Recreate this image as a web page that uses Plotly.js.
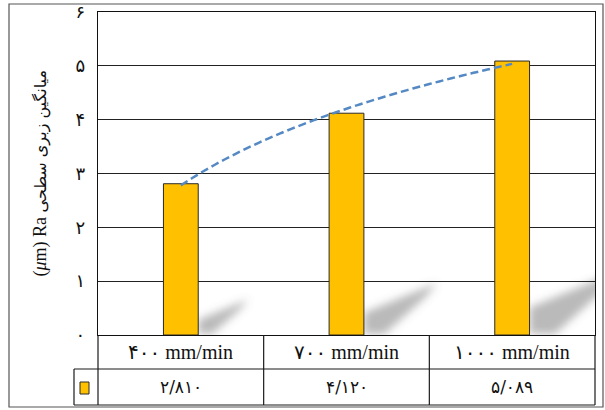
<!DOCTYPE html>
<html>
<head>
<meta charset="utf-8">
<script src="https://cdn.plot.ly/plotly-3.0.1.min.js"></script>
<style>
  html, body { margin: 0; padding: 0; background: #fff; }
  #chart { width: 605px; height: 410px; }
</style>
</head>
<body>
<div id="chart"></div>
<script>
// Feed rates (mm/min) and mean surface roughness Ra (µm)
const feedRates = [400, 700, 1000];
const roughness = [2.810, 4.120, 5.089];
const yTickValues = [0, 1, 2, 3, 4, 5, 6];

const FA_DIGITS = ['۰', '۱', '۲', '۳', '۴', '۵', '۶', '۷', '۸', '۹'];
function toFa(s) {
  return String(s).replace(/[0-9]/g, d => FA_DIGITS[+d]);
}

const barColor = '#FFC000';
const xIdx = feedRates.map((_, i) => i);
const barWidth = 0.21;

// Logarithmic trendline (least squares on y = a + b·ln(n), n = 1..N)
const lnX = xIdx.map(i => Math.log(i + 1));
const mx = lnX.reduce((s, v) => s + v, 0) / lnX.length;
const my = roughness.reduce((s, v) => s + v, 0) / roughness.length;
let sxy = 0, sxx = 0;
lnX.forEach((lx, i) => { sxy += (lx - mx) * (roughness[i] - my); sxx += (lx - mx) * (lx - mx); });
const slope = sxy / sxx;
const intercept = my - slope * mx;
const trendX = [], trendY = [];
for (let k = 0; k <= 60; k++) {
  const xv = (xIdx.length - 1) * k / 60;
  trendX.push(xv);
  trendY.push(intercept + slope * Math.log(xv + 1));
}

const bars = {
  type: 'bar',
  x: xIdx,
  y: roughness,
  width: barWidth,
  marker: { color: barColor, line: { color: '#2a2a2a', width: 1 } },
  hoverinfo: 'skip',
  showlegend: false
};

const trend = {
  type: 'scatter',
  mode: 'lines',
  x: trendX,
  y: trendY,
  line: { color: '#5589c4', width: 2.5, dash: '8px,4px', shape: 'spline' },
  hoverinfo: 'skip',
  showlegend: false
};

// Soft cast shadows to the right of each bar foot
const shapes = roughness.map((v, i) => {
  const xr = i + barWidth / 2;
  return {
    type: 'path', xref: 'x', yref: 'y', layer: 'below',
    path: `M ${xr} 0.02 L ${xr} ${0.1 * v} L ${xr + 0.107 * v} ${0.235 * v} L ${xr + 0.09 * v} ${0.17 * v} L ${xr + 0.03 * v} 0.02 Z`,
    fillcolor: 'rgba(100,100,100,0.45)',
    line: { width: 0 }
  };
});

// Data table under the plot area
const plotH = 323, plotW = 497;
const py = px => -px / plotH;          // pixels below the plot bottom -> paper y
const pxX = px => px / plotW;          // pixels from the plot left -> paper x
const row1 = py(34), row2 = py(70);
const tableLine = { color: '#1a1a1a', width: 1.2 };
for (let c = 0; c <= feedRates.length; c++) {
  const xp = c / feedRates.length;
  shapes.push({ type: 'line', xref: 'paper', yref: 'paper', x0: xp, x1: xp, y0: 0, y1: row2, line: tableLine });
}
shapes.push({ type: 'line', xref: 'paper', yref: 'paper', x0: pxX(-24), x1: 1, y0: row1, y1: row1, line: tableLine });
shapes.push({ type: 'line', xref: 'paper', yref: 'paper', x0: pxX(-24), x1: 1, y0: row2, y1: row2, line: tableLine });
shapes.push({ type: 'line', xref: 'paper', yref: 'paper', x0: pxX(-24), x1: pxX(-24), y0: row1, y1: row2, line: tableLine });
// legend key
shapes.push({ type: 'rect', xref: 'paper', yref: 'paper', x0: pxX(-18), x1: pxX(-9), y0: py(47), y1: py(59),
  fillcolor: barColor, line: { color: '#2a2a2a', width: 1 } });
// outer frame
shapes.push({ type: 'rect', xref: 'paper', yref: 'paper', x0: pxX(-89), x1: pxX(505), y0: 1 + 8 / plotH, y1: py(72),
  fillcolor: 'rgba(0,0,0,0)', line: { color: '#555', width: 1.2 } });

const serif = 'Liberation Serif, DejaVu Serif, DejaVu Sans, serif';
const annotations = [];
feedRates.forEach((f, i) => {
  const xc = (i + 0.5) / feedRates.length;
  annotations.push({ xref: 'paper', yref: 'paper', x: xc, y: py(17), text: toFa(f) + ' mm/min',
    showarrow: false, font: { family: serif, size: 20, color: '#111' }, xanchor: 'center', yanchor: 'middle' });
  annotations.push({ xref: 'paper', yref: 'paper', x: xc, y: py(52), text: toFa(roughness[i].toFixed(3).replace('.', '/')),
    showarrow: false, font: { family: 'DejaVu Sans, sans-serif', size: 17, color: '#111' }, xanchor: 'center', yanchor: 'middle' });
});
annotations.push({
  xref: 'paper', yref: 'paper', x: pxX(-58), y: 0.5, textangle: -90, showarrow: false,
  text: '\u200E(<i>μ</i>m) Ra <span style="font-family:DejaVu Sans;font-size:16px">میانگین زبری سطحی</span>',
  font: { family: serif, size: 18, color: '#111' }, xanchor: 'center', yanchor: 'middle'
});

const layout = {
  width: 605, height: 410,
  margin: { l: 98, r: 10, t: 12, b: 75 },
  paper_bgcolor: '#fff', plot_bgcolor: '#fff',
  xaxis: {
    range: [-0.5, feedRates.length - 0.5], showticklabels: false, showgrid: false, zeroline: false,
    showline: true, mirror: true, linecolor: '#111', linewidth: 1.2, fixedrange: true
  },
  yaxis: {
    range: [0, 6], tickvals: yTickValues, ticktext: yTickValues.map(toFa),
    showgrid: true, gridcolor: '#222', gridwidth: 1.2, zeroline: false,
    showline: true, mirror: true, linecolor: '#111', linewidth: 1.2,
    ticks: 'outside', ticklen: 8, tickcolor: 'rgba(0,0,0,0)',
    tickfont: { family: 'DejaVu Sans, sans-serif', size: 18, color: '#111' }, fixedrange: true
  },
  shapes: shapes,
  annotations: annotations,
  showlegend: false
};

Plotly.newPlot('chart', [bars, trend], layout, { displayModeBar: false, staticPlot: true }).then(() => {
  // blur the cast shadows
  const svg = document.querySelector('#chart svg.main-svg');
  const ns = 'http://www.w3.org/2000/svg';
  let defs = svg.querySelector('defs');
  const filter = document.createElementNS(ns, 'filter');
  filter.setAttribute('id', 'shadowBlur');
  filter.setAttribute('x', '-50%'); filter.setAttribute('y', '-50%');
  filter.setAttribute('width', '200%'); filter.setAttribute('height', '200%');
  const blur = document.createElementNS(ns, 'feGaussianBlur');
  blur.setAttribute('stdDeviation', '4');
  filter.appendChild(blur);
  defs.appendChild(filter);
  document.querySelectorAll('#chart .shapelayer path').forEach(p => {
    const idx = +p.getAttribute('data-index');
    if (idx < roughness.length) p.setAttribute('filter', 'url(#shadowBlur)');
  });
});
</script>
</body>
</html>
